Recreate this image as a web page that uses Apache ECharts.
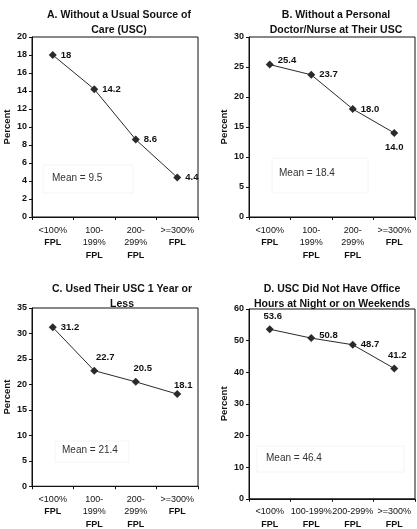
<!DOCTYPE html>
<html><head><meta charset="utf-8">
<script src="https://cdn.jsdelivr.net/npm/echarts@6/dist/echarts.min.js"></script>
<style>html,body{margin:0;padding:0;background:#fff}#c{width:417px;height:529px}</style>
</head><body><div id="c"></div>
<script>
const titles = [
  'A. Without a Usual Source of\nCare (USC)',
  'B. Without a Personal\nDoctor/Nurse at Their USC',
  'C. Used Their USC 1 Year or\nLess',
  'D. USC Did Not Have Office\nHours at Night or on Weekends'
];
const catsABC = ['<100%\nFPL', '100-\n199%\nFPL', '200-\n299%\nFPL', '>=300%\nFPL'];
const catsD = ['<100%\nFPL', '100-199%\nFPL', '200-299%\nFPL', '>=300%\nFPL'];
const valsA = [18, 14.2, 8.6, 4.4];
const valsB = [25.4, 23.7, 18.0, 14.0];
const valsC = [31.2, 22.7, 20.5, 18.1];
const valsD = [53.6, 50.8, 48.7, 41.2];
const labelsA = ['18', '14.2', '8.6', '4.4'];
const labelsB = ['25.4', '23.7', '18.0', '14.0'];
const labelsC = ['31.2', '22.7', '20.5', '18.1'];
const labelsD = ['53.6', '50.8', '48.7', '41.2'];
const means = ['9.5', '18.4', '21.4', '46.4'];
const yMax = [20, 30, 35, 60];
const yStep = [2, 5, 5, 10];

const FONT = '"Liberation Sans", Arial, sans-serif';
const grids = [
  {left: 32, top: 37, width: 166, height: 180},
  {left: 249, top: 37, width: 166, height: 180},
  {left: 32, top: 308, width: 166, height: 179},
  {left: 249, top: 309, width: 166, height: 193}
];
const titlePos = [
  {x: 114, y: 3}, {x: 331, y: 3}, {x: 117, y: 277}, {x: 327, y: 277}
];
// label placement (style, not data)
const labPos = [
  [['right',[0,0]],['right',[0,0]],['right',[0,0]],['right',[0,0]]],
  [['right',[0,-4]],['right',[0,0]],['right',[0,0]],['bottom',[0,1]]],
  [['right',[0,0]],['top',[11,0]],['top',[7,0]],['top',[6,4]]],
  [['top',[3,0]],['right',[0,-3]],['right',[0,0]],['top',[3,0]]]
];
const meanBox = [
  {x: 43, y: 165, w: 90, h: 28, tx: 52, ty: 178},
  {x: 272, y: 158, w: 96, h: 35, tx: 279, ty: 173},
  {x: 55, y: 441, w: 74, h: 21, tx: 62, ty: 450},
  {x: 257, y: 446, w: 147, h: 26, tx: 266, ty: 458}
];

const allVals = [valsA, valsB, valsC, valsD];
const allLabs = [labelsA, labelsB, labelsC, labelsD];
const allCats = [catsABC, catsABC, catsABC, catsD];

const xLabelFmt = function (v) {
  const parts = v.split('\n');
  return parts.map((p, i) => (i === parts.length - 1 ? '{b|' + p + '}' : '{n|' + p + '}')).join('\n');
};

const option = {
  animation: false,
  backgroundColor: '#fff',
  textStyle: {fontFamily: FONT},
  title: titles.map((t, i) => ({
    text: t, left: titlePos[i].x, top: titlePos[i].y, textAlign: 'center',
    textStyle: {fontFamily: FONT, fontSize: 10.5, fontWeight: 'bold', color: '#111', lineHeight: 14.5}
  })),
  grid: grids.map(g => Object.assign({show: true, borderColor: '#111', borderWidth: 1, backgroundColor: 'transparent'}, g)),
  xAxis: allCats.map((c, i) => ({
    type: 'category', gridIndex: i, data: c, boundaryGap: true,
    axisLine: {lineStyle: {color: '#111', width: 1}},
    axisTick: {show: true, inside: false, length: 3, alignWithLabel: false, lineStyle: {color: '#111'}},
    axisLabel: {
      interval: 0, margin: 7, formatter: xLabelFmt, color: '#111',
      rich: {
        n: {fontFamily: FONT, fontSize: 9, lineHeight: 12.5, color: '#111'},
        b: {fontFamily: FONT, fontSize: 9, fontWeight: 'bold', lineHeight: 12.5, color: '#111'}
      }
    }
  })),
  yAxis: yMax.map((m, i) => ({
    type: 'value', gridIndex: i, min: 0, max: m, interval: yStep[i],
    name: 'Percent', nameLocation: 'middle', nameGap: 20,
    nameTextStyle: {fontFamily: FONT, fontSize: 9.5, fontWeight: 'bold', color: '#111'},
    splitLine: {show: false},
    axisLine: {show: true, lineStyle: {color: '#111', width: 1}},
    axisTick: {show: true, inside: false, length: 3, lineStyle: {color: '#111'}},
    axisLabel: {fontFamily: FONT, fontSize: 9, fontWeight: 'bold', color: '#111', margin: 5}
  })),
  series: allVals.map((vals, i) => ({
    type: 'line', xAxisIndex: i, yAxisIndex: i,
    symbol: 'diamond', symbolSize: 8,
    itemStyle: {color: '#2a2a2a'},
    lineStyle: {color: '#2a2a2a', width: 1},
    data: vals.map((v, j) => ({
      value: v,
      label: {
        show: true, position: labPos[i][j][0], offset: labPos[i][j][1],
        formatter: allLabs[i][j], distance: 4,
        fontFamily: FONT, fontSize: 9.5, fontWeight: 'bold', color: '#111'
      }
    }))
  })),
  graphic: meanBox.flatMap((b, i) => [
    {type: 'rect', shape: {x: b.x, y: b.y, width: b.w, height: b.h},
     style: {fill: 'transparent', stroke: '#f4f4f4', lineWidth: 1}, z: 1},
    {type: 'text', x: b.tx, y: b.ty,
     style: {text: 'Mean = ' + means[i], fontFamily: FONT, fontSize: 10, fill: '#333', textVerticalAlign: 'middle'}, z: 2}
  ])
};

const chart = echarts.init(document.getElementById('c'), null, {renderer: 'canvas'});
chart.setOption(option);
</script></body></html>
